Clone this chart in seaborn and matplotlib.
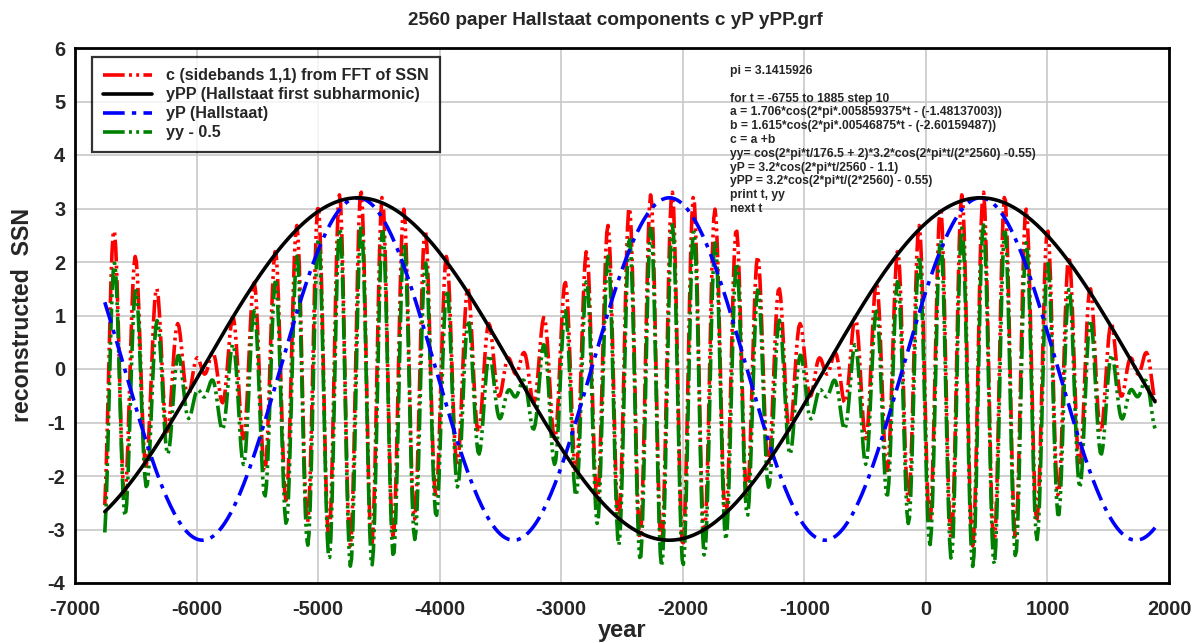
import numpy as np
import pandas as pd
import matplotlib
matplotlib.use("Agg")
import matplotlib.pyplot as plt
import seaborn as sns

# Time grid as given in the chart's annotation: for t = -6755 to 1885 step 10
t_start, t_stop, t_step = -6755, 1885, 10

# Component parameters read from the annotation text
c_amps = [1.706, 1.615]
c_freqs = [0.005859375, 0.00546875]
c_phases = [-1.48137003, -2.60159487]
hallstatt_period = 2560
yy_period = 176.5
yy_phase = 2
amp = 3.2
yP_phase = 1.1
yPP_phase = 0.55
yy_offset = -0.5

series_labels = ["c (sidebands 1,1) from FFT of SSN",
                 "yPP (Hallstaat first subharmonic)",
                 "yP (Hallstaat)",
                 "yy - 0.5"]

x_ticks = [-7000, -6000, -5000, -4000, -3000, -2000, -1000, 0, 1000, 2000]
y_ticks = [-4, -3, -2, -1, 0, 1, 2, 3, 4, 5, 6]

annotation_lines = [
    "pi = 3.1415926",
    "",
    "for t = -6755 to 1885 step 10",
    "a = 1.706*cos(2*pi*.005859375*t - (-1.48137003))",
    "b = 1.615*cos(2*pi*.00546875*t - (-2.60159487))",
    "c = a +b",
    "yy= cos(2*pi*t/176.5 + 2)*3.2*cos(2*pi*t/(2*2560) -0.55)",
    "yP = 3.2*cos(2*pi*t/2560 - 1.1)",
    "yPP = 3.2*cos(2*pi*t/(2*2560) - 0.55)",
    "print t, yy",
    "next t",
]

pi = 3.1415926
t = np.arange(t_start, t_stop + 1, t_step)
a = c_amps[0] * np.cos(2 * pi * c_freqs[0] * t - c_phases[0])
b = c_amps[1] * np.cos(2 * pi * c_freqs[1] * t - c_phases[1])
c = a + b
yPP = amp * np.cos(2 * pi * t / (2 * hallstatt_period) - yPP_phase)
yP = amp * np.cos(2 * pi * t / hallstatt_period - yP_phase)
yy = np.cos(2 * pi * t / yy_period + yy_phase) * yPP

df = pd.DataFrame({"t": t, "c": c, "yPP": yPP, "yP": yP, "yy": yy + yy_offset})

sns.set_style("white")
plt.rcParams["font.family"] = ["Liberation Sans", "DejaVu Sans"]

fig = plt.figure(figsize=(11.99, 6.43), dpi=100)
ax = fig.add_axes([75 / 1199, 1 - 583 / 643, (1169 - 75) / 1199, (583 - 48) / 643])

styles = [
    ("c", "#ff0000", (0, (6, 1.2, 0.8, 1.2, 0.8, 1.2)), 3),
    ("yPP", "#000000", "-", 5),
    ("yP", "#0000ff", (0, (6, 2, 1.2, 2)), 4),
    ("yy", "#008000", (0, (6, 1.2, 0.8, 1.2, 0.8, 1.2)), 3.5),
]
for (col, color, ls, z), lab in zip(styles, series_labels):
    sns.lineplot(data=df, x="t", y=col, ax=ax, color=color, linewidth=2.6,
                 linestyle=ls, label=lab, sort=False, estimator=None, zorder=z)

ax.set_xlim(-7000, 2000)
ax.set_ylim(-4, 6)
ax.set_xticks(x_ticks)
ax.set_yticks(y_ticks)
ax.set_xticklabels([str(v) for v in x_ticks], fontsize=14.4, fontweight="bold")
ax.set_yticklabels([str(v) for v in y_ticks], fontsize=14.4, fontweight="bold")
ax.tick_params(axis="x", length=0, pad=12)
ax.tick_params(axis="y", length=0, pad=7)
ax.grid(True, color="#c8c8c8", linewidth=1.2)
ax.set_axisbelow(True)
for s in ax.spines.values():
    s.set_color("black")
    s.set_linewidth(2)

ax.set_xlabel("year", fontsize=17, fontweight="bold", labelpad=0)
ax.set_ylabel("reconstructed  SSN", fontsize=16.7, fontweight="bold", labelpad=10)
fig.suptitle("2560 paper Hallstaat components c yP yPP.grf", x=0.513, y=0.982,
             fontsize=13.7, fontweight="bold")

leg = ax.legend(loc="upper left", bbox_to_anchor=(17 / 1094, 1 - 9 / 535),
                borderaxespad=0, frameon=True, fancybox=False, edgecolor="black",
                prop={"weight": "bold", "size": 11.6}, handlelength=3.0,
                borderpad=0.7, labelspacing=0.25, handletextpad=0.9)
leg.get_frame().set_linewidth(1.6)

ax.text(730 / 1199, 1 - 65 / 643, "\n".join(annotation_lines), transform=fig.transFigure,
        fontsize=8.7, va="top", ha="left", linespacing=1.2, fontweight="bold")

fig.savefig("out.png", dpi=100)
